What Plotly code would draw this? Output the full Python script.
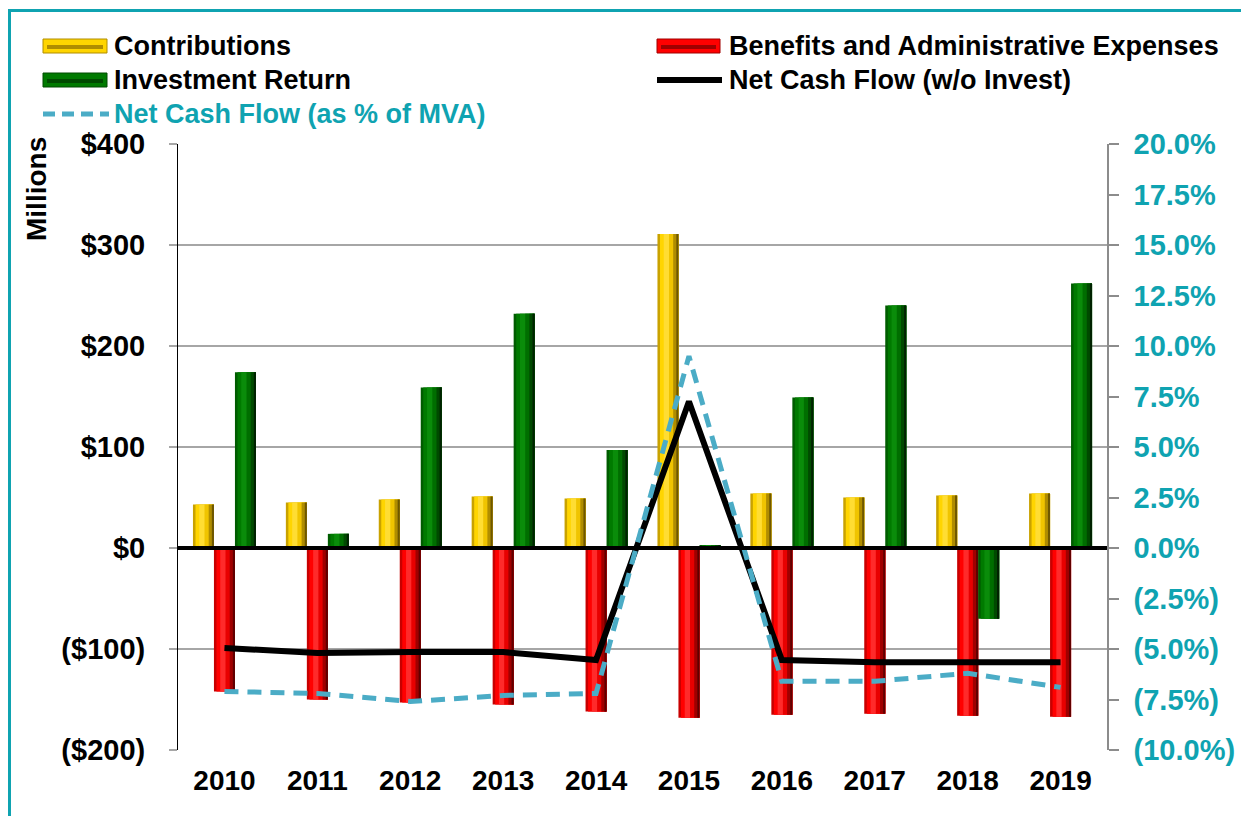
import plotly.graph_objects as go

# data ($ millions / percent of MVA)
years = ["2010", "2011", "2012", "2013", "2014", "2015", "2016", "2017", "2018", "2019"]
contributions = [43, 45, 48, 51, 49, 311, 54, 50, 52, 54]
benefits = [-142, -150, -153, -155, -162, -168, -165, -164, -166, -167]
investment = [174, 14, 159, 232, 97, 3, 149, 240, -70, 262]
net_cash_flow = [-99, -104, -103, -103, -111, 145, -111, -113, -113, -113]
net_cash_pct = [-7.1, -7.2, -7.6, -7.3, -7.2, 9.5, -6.6, -6.6, -6.2, -6.9]

names = [
    "Contributions",
    "Benefits and Administrative Expenses",
    "Investment Return",
    "Net Cash Flow (w/o Invest)",
    "Net Cash Flow (as % of MVA)",
]

left_ticks = [-200, -100, 0, 100, 200, 300, 400]
left_labels = ["($200)", "($100)", "$0", "$100", "$200", "$300", "$400"]
right_ticks = [-10, -7.5, -5, -2.5, 0, 2.5, 5, 7.5, 10, 12.5, 15, 17.5, 20]
right_labels = ["(10.0%)", "(7.5%)", "(5.0%)", "(2.5%)", "0.0%", "2.5%", "5.0%",
                "7.5%", "10.0%", "12.5%", "15.0%", "17.5%", "20.0%"]

TEAL = "#0FA3B1"
DASH = "#4BACC6"
GRID = "#A6A6A6"
FONT = "Arial, Liberation Sans, sans-serif"

# strip shading to fake the cylinder look of the excel bars
STRIPS = [0, 0.12, 0.3, 0.55, 0.75, 0.9]
SHADES = {
    "yellow": ["#C9A200", "#FFD500", "#FFDD33", "#F0C400", "#B08D00", "#6E5700"],
    "red": ["#C80000", "#FF0000", "#FF2A2A", "#E80000", "#A00000", "#600000"],
    "green": ["#005C00", "#007A00", "#0A8C0A", "#006E00", "#004A00", "#002200"],
}

# page puts the plot 8px in from the top-left corner
OFF = 8
W, H = 1249 - OFF, 816 - OFF
# plot area in reference pixels
L, R, T, B = 178, 1107, 144, 750


def px(x):
    return (x - L) / (R - L)


def py(y):
    return (B - y) / (B - T)


BW = 0.226  # bar width in category units


def add_shaded_bar(fig, values, name, shade, center):
    # each strip runs to the right edge and covers the previous one -> no seams
    cols = SHADES[shade]
    for i, (s, c) in enumerate(zip(STRIPS, cols)):
        fig.add_trace(
            go.Bar(
                x=years,
                y=values,
                width=BW * (1 - s),
                offset=center - BW / 2 + BW * s,
                marker=dict(color=c, line=dict(width=0)),
                name=name,
                showlegend=False,
                hovertemplate="%{x}<br>" + name + ": $%{y}M<extra></extra>" if i == 0 else None,
                hoverinfo=None if i == 0 else "skip",
            )
        )


fig = go.Figure()

add_shaded_bar(fig, contributions, names[0], "yellow", -BW)
add_shaded_bar(fig, benefits, names[1], "red", 0)
add_shaded_bar(fig, investment, names[2], "green", BW)

fig.add_trace(
    go.Scatter(
        x=years,
        y=net_cash_flow,
        mode="lines",
        line=dict(color="black", width=6),
        name=names[3],
        showlegend=False,
    )
)
fig.add_trace(
    go.Scatter(
        x=years,
        y=net_cash_pct,
        mode="lines",
        yaxis="y2",
        line=dict(color=DASH, width=5, dash="14px,9px"),
        name=names[4],
        showlegend=False,
    )
)

shapes = [
    # thick zero line
    dict(type="line", xref="paper", yref="y", x0=0, x1=1, y0=0, y1=0,
         line=dict(color="black", width=4), layer="above"),
    # teal frame (only left/top edges visible in the crop)
    dict(type="rect", xref="paper", yref="paper", x0=px(9.5), x1=px(1300), y0=py(10.5), y1=py(900),
         line=dict(color=TEAL, width=3)),
]
annotations = []

# custom legend: wide swatches like excel
legend_rows = [46, 80, 114]
entries = [
    (names[0], "bar", "yellow", 0, 0),
    (names[1], "bar", "red", 1, 0),
    (names[2], "bar", "green", 0, 1),
    (names[3], "line", "black", 1, 1),
    (names[4], "dash", DASH, 0, 2),
]
col_x = [(43, 107, 112), (657, 720, 727)]
for text, kind, color, col, row in entries:
    x0, x1, tx = col_x[col]
    yc = legend_rows[row]
    if kind == "bar":
        c = SHADES[color]
        shapes.append(dict(type="rect", xref="paper", yref="paper",
                           x0=px(x0), x1=px(x1), y0=py(yc + 7), y1=py(yc - 7),
                           fillcolor=c[1], line=dict(color=c[4], width=1)))
        shapes.append(dict(type="rect", xref="paper", yref="paper",
                           x0=px(x0 + 4), x1=px(x1 - 4), y0=py(yc + 3), y1=py(yc - 1),
                           fillcolor=c[4], line=dict(width=0)))
    else:
        shapes.append(dict(type="line", xref="paper", yref="paper",
                           x0=px(x0), x1=px(x1 + 2), y0=py(yc), y1=py(yc),
                           line=dict(color=color, width=6 if kind == "line" else 5,
                                     dash="solid" if kind == "line" else "12px,7px")))
    annotations.append(dict(
        xref="paper", yref="paper", x=px(tx), y=py(yc), xanchor="left", yanchor="middle",
        text=text, showarrow=False,
        font=dict(family=FONT, size=27, weight="bold", color=TEAL if kind == "dash" else "black"),
    ))

annotations.append(dict(
    xref="paper", yref="paper", x=px(37), y=py(189), xanchor="center", yanchor="middle",
    text="Millions", textangle=-90, showarrow=False,
    font=dict(family=FONT, size=28, weight="bold", color="black"),
))

fig.update_layout(
    width=W,
    height=H,
    margin=dict(l=L - OFF, r=W + OFF - R, t=T - OFF, b=H + OFF - B, autoexpand=False),
    paper_bgcolor="white",
    plot_bgcolor="white",
    barmode="overlay",
    showlegend=False,
    shapes=shapes,
    annotations=annotations,
    xaxis=dict(
        type="category",
        range=[-0.5, len(years) - 0.5],
        showgrid=False,
        showline=False,
        ticks="",
        tickfont=dict(family=FONT, size=28, weight="bold", color="black"),
        ticklabelstandoff=11,
    ),
    yaxis=dict(
        range=[-200, 400],
        tickvals=left_ticks,
        ticktext=left_labels,
        showgrid=True,
        gridcolor=GRID,
        gridwidth=1.5,
        zeroline=False,
        showline=True,
        linecolor="black",
        linewidth=1,
        ticks="outside",
        ticklen=8,
        tickcolor=GRID,
        tickwidth=1.5,
        ticklabelstandoff=18,
        tickfont=dict(family=FONT, size=29, weight="bold", color="black"),
    ),
    yaxis2=dict(
        overlaying="y",
        side="right",
        range=[-10, 20],
        tickvals=right_ticks,
        ticktext=right_labels,
        showgrid=False,
        zeroline=False,
        showline=True,
        linecolor="#8C8C8C",
        linewidth=1.5,
        ticks="outside",
        ticklen=10,
        tickcolor="#8C8C8C",
        tickwidth=1.5,
        ticklabelstandoff=9,
        tickfont=dict(family=FONT, size=29, weight="bold", color=TEAL),
    ),
)

fig.write_html("out.html")
